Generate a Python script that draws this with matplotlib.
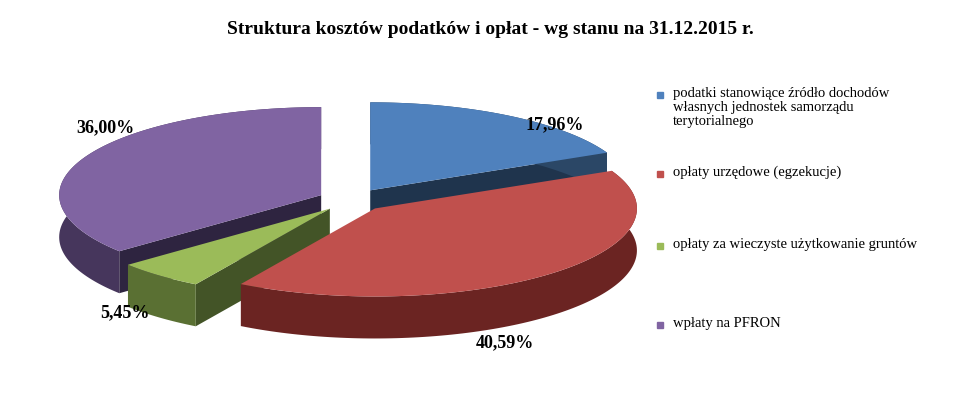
import numpy as np
import matplotlib.pyplot as plt
from matplotlib.patches import Polygon

title = 'Struktura kosztów podatków i opłat - wg stanu na 31.12.2015 r.'
labels = ['podatki stanowiące źródło dochodów\nwłasnych jednostek samorządu\nterytorialnego',
          'opłaty urzędowe (egzekucje)',
          'opłaty za wieczyste użytkowanie gruntów',
          'wpłaty na PFRON']
values = [17.96, 40.59, 5.45, 36.00]
pct_text = ['17,96%', '40,59%', '5,45%', '36,00%']
top_cols = ['#4F81BD', '#C0504D', '#9BBB59', '#8064A2']
side_cols = ['#2B4766', '#6B2422', '#5A7033', '#46365C']
wall_cols = ['#1F344D', '#4E1A18', '#435427', '#2E2440']

fig = plt.figure(figsize=(9.8, 4.18), dpi=100)
ax = fig.add_axes([0, 0, 1, 1])
ax.set_xlim(0, 980)
ax.set_ylim(418, 0)
ax.axis('off')

cx, cy, rx, ry, depth = 352, 200, 262, 88, 42
explode = 0.13


def pt(a, r, ox, oy, dz=0):
    return (ox + r * rx * np.cos(a), oy - r * ry * np.sin(a) + dz)


fr = np.array(values) / sum(values)
ends = np.pi / 2 - np.cumsum(fr) * 2 * np.pi
starts = np.concatenate([[np.pi / 2], ends[:-1]])
slices = []
for i in range(len(values)):
    a0, a1 = ends[i], starts[i]
    mid = (a0 + a1) / 2
    ox, oy = cx + explode * rx * np.cos(mid), cy - explode * ry * np.sin(mid)
    slices.append((i, a0, a1, mid, ox, oy))

order = sorted(slices, key=lambda s: -np.sin(s[3]))
# visible radial walls
for i, a0, a1, mid, ox, oy in order:
    for a, vis in ((a0, np.cos(a0) > 0), (a1, np.cos(a1) < 0)):
        if vis:
            p = [(ox, oy), pt(a, 1, ox, oy), pt(a, 1, ox, oy, depth), (ox, oy + depth)]
            ax.add_patch(Polygon(p, closed=True, fc=wall_cols[i], ec='none'))
# outer walls and tops
for i, a0, a1, mid, ox, oy in order:
    ang = np.linspace(a0, a1, 120)
    top = [pt(a, 1, ox, oy) for a in ang]
    bot = [pt(a, 1, ox, oy, depth) for a in ang[::-1]]
    ax.add_patch(Polygon(top + bot, closed=True, fc=side_cols[i], ec='none'))
for i, a0, a1, mid, ox, oy in order:
    ang = np.linspace(a0, a1, 120)
    top = [pt(a, 1, ox, oy) for a in ang]
    ax.add_patch(Polygon([(ox, oy)] + top, closed=True, fc=top_cols[i], ec='none'))

pct_pos = [(555, 125), (505, 343), (125, 313), (105, 128)]
for i, t in enumerate(pct_text):
    ax.text(pct_pos[i][0], pct_pos[i][1], t, ha='center', va='center', fontsize=13,
            fontweight='bold', family='Liberation Serif')

ax.text(490, 30, title, ha='center', va='center', fontsize=14, fontweight='bold',
        family='Liberation Serif')

ly = [95, 174, 246, 325]
for i, lab in enumerate(labels):
    ax.plot(660, ly[i], 's', color=top_cols[i], ms=5)
    ax.text(673, ly[i] - 8, lab, ha='left', va='top', fontsize=10.5,
            family='Liberation Serif', linespacing=1.1)

fig.savefig('out.png', dpi=100)
